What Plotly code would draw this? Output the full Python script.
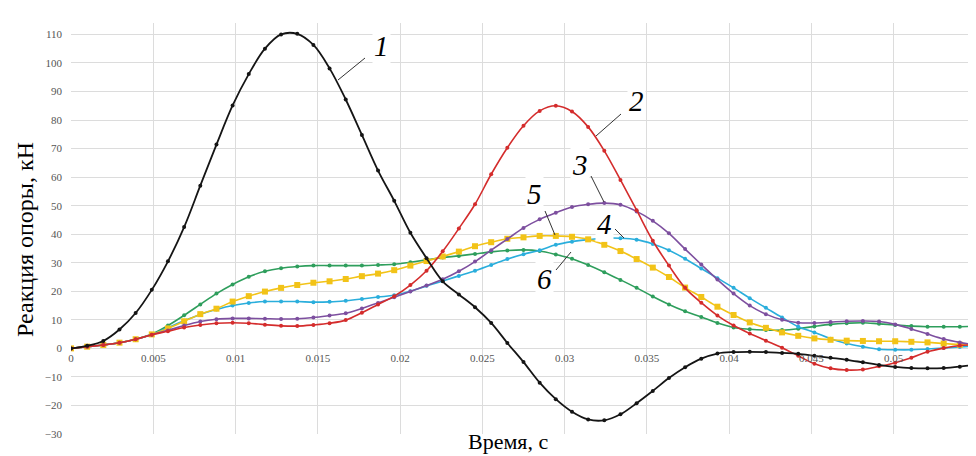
import numpy as np
import plotly.graph_objects as go

# sample times (57 equally spaced samples, 0 .. 0.055 s)
time_s = np.linspace(0.0, 0.055, 57)

curve1_black = [0, 0.9, 2.6, 6.6, 12.4, 20.5, 30.5, 42.5, 57.0, 71.4, 85.1, 96.1, 105.0, 110.0,
                110.2, 106.3, 98.1, 87.2, 74.8, 62.3, 51.7, 40.5, 31.6, 23.5, 18.9, 14.4, 8.9, 1.9,
                -4.8, -12.0, -17.8, -22.2, -24.9, -25.2, -23.1, -19.2, -14.9, -10.4, -6.6, -3.6, -1.8,
                -1.3, -1.2, -1.3, -1.6, -1.9, -2.6, -3.3, -4.0, -4.9, -5.8, -6.5, -6.9, -7.0, -6.9,
                -6.4, -5.7]
curve2_red = [0, 0.6, 1.2, 2.0, 3.2, 4.8, 6.0, 7.3, 8.2, 8.8, 9.0, 8.8, 8.3, 7.9, 7.8, 8.2, 8.8,
              9.9, 12.5, 15.4, 18.3, 22.2, 27.2, 34.0, 42.0, 50.5, 61.0, 70.3, 78.0, 83.2, 85.0,
              83.0, 77.6, 69.2, 59.0, 48.4, 37.7, 29.0, 21.2, 16.0, 11.5, 8.0, 5.2, 2.7, 0.2, -2.6,
              -5.4, -7.0, -7.6, -7.4, -6.3, -5.0, -3.3, -1.2, 0.1, 1.0, 1.3]
curve3_purple = [0, 0.6, 1.2, 2.0, 3.2, 4.8, 6.3, 8.0, 9.4, 10.2, 10.5, 10.5, 10.4, 10.3, 10.4,
                 10.8, 11.5, 12.3, 14.0, 15.9, 17.9, 19.9, 22.0, 24.2, 27.0, 30.4, 34.4, 38.3, 42.2,
                 45.2, 47.5, 49.5, 50.5, 50.9, 50.3, 48.0, 44.7, 40.3, 34.8, 29.4, 24.1, 19.2, 15.0,
                 12.0, 10.0, 9.0, 8.9, 9.2, 9.5, 9.6, 9.4, 8.4, 6.8, 5.0, 3.3, 2.1, 1.2]
curve4_cyan = [0, 0.6, 1.2, 2.0, 3.2, 4.9, 7.3, 9.7, 11.9, 13.6, 15.0, 15.9, 16.4, 16.4, 16.4,
               16.2, 16.3, 16.7, 17.3, 18.0, 18.6, 20.0, 21.9, 23.6, 25.4, 27.2, 29.2, 31.3, 33.0,
               34.4, 36.3, 37.4, 38.1, 38.6, 38.6, 38.1, 36.6, 34.4, 31.4, 28.0, 24.6, 21.2, 17.6,
               14.2, 10.8, 7.6, 5.6, 3.4, 1.7, 0.6, -0.3, -0.5, -0.5, -0.2, 0.1, 0.5, 0.9]
curve5_yellow = [0, 0.6, 1.2, 2.0, 3.2, 4.9, 7.0, 9.5, 12.0, 13.9, 16.4, 18.3, 19.9, 21.2, 22.2,
                 23.0, 23.5, 24.3, 25.3, 26.2, 27.4, 29.0, 30.6, 32.2, 33.9, 35.8, 37.2, 38.4, 38.9,
                 39.4, 39.4, 39.1, 38.2, 36.3, 34.1, 31.3, 28.3, 25.0, 21.3, 18.0, 14.6, 11.7, 9.1,
                 7.2, 5.6, 4.4, 3.5, 3.0, 2.7, 2.6, 2.5, 2.5, 2.3, 2.1, 1.7, 1.3, 0.9]
curve6_green = [0, 0.6, 1.2, 2.0, 3.2, 5.0, 8.0, 11.6, 15.4, 19.2, 22.4, 25.1, 27.0, 28.1, 28.7,
                29.0, 29.0, 29.0, 29.0, 29.2, 29.5, 30.2, 31.0, 31.8, 32.4, 33.1, 33.8, 34.3, 34.5,
                34.1, 32.9, 31.4, 29.2, 26.7, 24.0, 21.2, 18.2, 15.4, 13.0, 11.0, 8.9, 7.3, 6.7, 6.4,
                6.4, 6.9, 7.7, 8.4, 8.8, 9.0, 8.6, 8.2, 7.8, 7.6, 7.6, 7.6, 7.7]

x_tick_vals = [0, 0.005, 0.01, 0.015, 0.02, 0.025, 0.03, 0.035, 0.04, 0.045, 0.05, 0.055]
x_tick_text = ["0", "0.005", "0.01", "0.015", "0.02", "0.025", "0.03", "0.035", "0.04", "0.045", "0.05", "0.055"]
y_tick_vals = [-30, -20, -10, 0, 10, 20, 30, 40, 50, 60, 70, 80, 90, 100, 110]

x_title = "Время, с"
y_title = "Реакция опоры, кН"
curve_labels = ["1", "2", "3", "4", "5", "6"]

W, H = 976, 456
M_L, M_R, M_T, M_B = 63, 8, 15, 30
X_RANGE = [0, 0.055]
Y_RANGE = [-30, 114]
PW, PH = W - M_L - M_R, H - M_T - M_B


def px2x(px):
    return X_RANGE[0] + (px - M_L) / PW * (X_RANGE[1] - X_RANGE[0])


def py2y(py):
    return Y_RANGE[1] - (py - M_T) / PH * (Y_RANGE[1] - Y_RANGE[0])


def py2paper(py):
    return 1 - (py - M_T) / PH


series = [
    (curve6_green, "#2e9e5c", "circle", 4, 1.6),
    (curve4_cyan, "#2aaedc", "circle", 4, 1.6),
    (curve5_yellow, "#f2c318", "square", 6, 1.6),
    (curve3_purple, "#7d4f9f", "circle", 4, 1.6),
    (curve2_red, "#d42c2c", "circle", 4, 1.6),
    (curve1_black, "#151515", "circle", 4, 1.8),
]

fig = go.Figure()
for vals, col, sym, msize, lw in series:
    fig.add_trace(go.Scatter(
        x=time_s, y=vals, mode="lines+markers",
        line=dict(color=col, width=lw, shape="spline", smoothing=1.0),
        marker=dict(color=col, symbol=sym, size=msize),
        showlegend=False, hoverinfo="skip",
    ))

serif = "Liberation Serif, Times New Roman, serif"

# curve number labels (pixel positions of text, leader line start and end)
label_layout = [
    ((373, 38), (357, 50), (330, 72)),
    ((628, 93), (613, 106), (588, 128)),
    ((572, 157), (583, 168), (596, 194)),
    ((596, 216), (607, 221), (616, 230)),
    ((526, 186), (537, 203), (547, 227)),
    ((536, 271), (548, 262), (563, 244)),
]
annotations = []
shapes = []
for (tx, ty), (sx, sy), (ex, ey) in label_layout:
    shapes.append(dict(type="line", xref="x", yref="y",
                       x0=px2x(sx), y0=py2y(sy), x1=px2x(ex), y1=py2y(ey),
                       line=dict(color="#333333", width=1)))
for txt, ((tx, ty), _, _) in zip(curve_labels, label_layout):
    annotations.append(dict(x=px2x(tx), y=py2y(ty), xref="x", yref="y", text="<i>" + txt + "</i>",
                            showarrow=False, bgcolor="white",
                            font=dict(family=serif, size=29, color="black"),
                            xanchor="center", yanchor="middle", borderpad=1))

annotations.append(dict(x=px2x(500), y=py2paper(433), xref="x", yref="paper", text=x_title,
                        showarrow=False, font=dict(family=serif, size=22, color="black"),
                        xanchor="center", yanchor="middle"))
annotations.append(dict(x=0, xref="paper", xshift=-46, y=py2paper(232), yref="paper", text=y_title,
                        textangle=-90, showarrow=False,
                        font=dict(family=serif, size=24, color="black"),
                        xanchor="center", yanchor="middle"))

zero_pos = (0 - Y_RANGE[0]) / (Y_RANGE[1] - Y_RANGE[0])

fig.update_layout(
    width=W, height=H,
    margin=dict(l=M_L, r=M_R, t=M_T, b=M_B, autoexpand=False),
    paper_bgcolor="white", plot_bgcolor="white",
    annotations=annotations, shapes=shapes,
    xaxis=dict(range=X_RANGE, tickvals=x_tick_vals, ticktext=x_tick_text,
               showgrid=True, gridcolor="#dcdcdc", gridwidth=1, zeroline=False,
               showline=False, anchor="free", position=zero_pos,
               tickfont=dict(family=serif, size=11, color="#555555"),
               ticklabelstandoff=2),
    yaxis=dict(range=Y_RANGE, tickvals=y_tick_vals,
               showgrid=True, gridcolor="#dcdcdc", gridwidth=1, zeroline=False,
               showline=False, tickfont=dict(family=serif, size=11, color="#555555"),
               ticklabelstandoff=8),
)

fig.write_html("out.html")
